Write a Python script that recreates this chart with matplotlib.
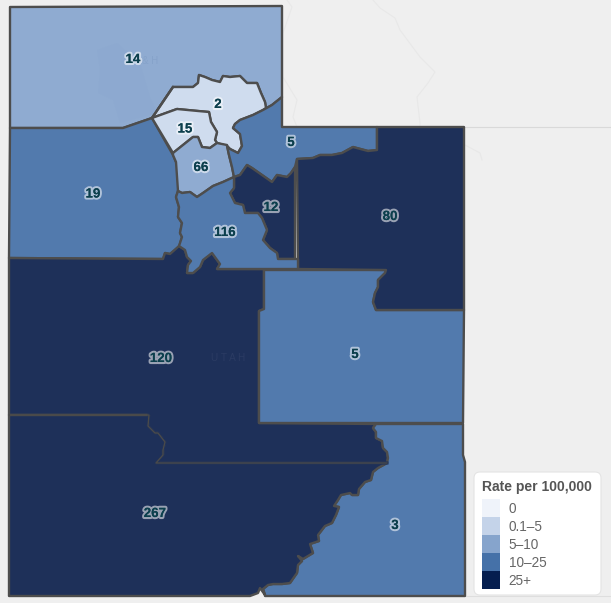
import matplotlib
matplotlib.use("Agg")
import matplotlib.pyplot as plt
import matplotlib.patheffects as pe
from matplotlib.patches import Polygon, Rectangle, FancyBboxPatch

W, H = 611, 603

# shared boundary segments (map outline points)
cache_ridge = [(263,110),(266,108),(265,102),(261,93),(257,83),(247,83),(240,76),(230,77),(223,76),(220,82),(212,80),(205,77),(199,75),(198,83),(193,87),(173,87),(152,118)]
morgan_east = [(263,110),(253,115),(240,120),(235,124),(233,128),(240,134),(242,146),(238,153),(230,149),(227,146)]
davis_weber = [(177,109),(198,111),(209,112),(211,122),(217,132),(215,140),(217,143)]
wasatch_top = [(234,177),(240,175),(247,165),(252,168),(272,182),(277,175),(287,177),(291,173),(295,167)]
uintah_top = [(297,159),(313,158),(320,155),(332,155),(342,153),(353,147),(368,151),(377,150),(377,127)]
tooele_east = [(173,155),(176,162),(180,175),(178,191),(176,197),(179,207),(178,217),(182,223),(180,233),(182,237),(179,247)]
slc_south = [(234,177),(223,182),(213,186),(203,193),(197,197),(190,192),(182,193),(178,191)]
wasatch_sw = [(234,177),(234,188),(230,193),(235,203),(243,205),(245,213),(258,213),(262,218),(267,230),(263,240),(270,248),(277,253),(278,259)]
utah_south = [(298,259),(298,269),(217,269),(220,264),(212,253),(203,260),(200,267),(193,273),(187,273),(188,265),(191,261),(187,257),(185,250),(179,246)]
duchesne_east = [(386,270),(385,273),(378,280),(378,287),(375,293),(373,302),(376,310)]
colorado_river = [(376,424),(373,428),(376,432),(376,438),(382,441),(383,448),(387,452),(388,458),(387,463)]
san_juan_edge = [(387,463),(378,468),(373,472),(371,480),(365,482),(359,489),(358,495),(352,495),(350,493),(341,495),(338,500),(334,506),(339,507),(336,515),(332,523),(325,526),(318,535),(319,541),(313,543),(310,544),(313,553),(303,559),(298,556),(302,561),(298,565),(297,573),(290,583),(282,584),(273,584),(268,585),(263,589),(265,595),(260,588),(258,593),(250,596)]
central_south_line = [(9,415),(149,415),(148,426),(155,433),(158,433),(165,442),(163,450),(163,455),(156,463),(387,463)]

north = [(10,7),(282,6),(282,97),(272,105)] + cache_ridge + [(123,128),(10,128)]
weber = cache_ridge[::-1] + morgan_east + [(217,143)] + davis_weber[::-1]
davis = [(152,118)] + davis_weber + [(210,148),(202,147),(198,137),(193,137),(173,153)]
salt_lake = [(173,153),(193,137),(198,137),(202,147),(210,148),(217,143),(227,145),(229,155),(232,167),(234,177)] + slc_south[1:] + tooele_east[:3][::-1][1:]
summit = [(282,127),(282,97),(272,105)] + morgan_east + [(229,155),(232,167)] + wasatch_top + uintah_top + [(282,127)]
uintah = uintah_top + [(464,127),(464,310),(376,310)] + duchesne_east[::-1] + [(298,269)]
wasatch = wasatch_top + [(295,259)] + wasatch_sw[::-1]
utah = slc_south[::-1] + wasatch_sw + utah_south + tooele_east[3:][::-1][1:]
tooele = [(10,128),(123,128),(152,118)] + tooele_east + [(170,254),(165,253),(163,259),(9,258)]
central = [(9,258),(163,259),(165,253),(170,254)] + utah_south[::-1] + [(264,270),(264,309),(259,311),(259,423)] + colorado_river + central_south_line[::-1]
carbon_emery = [(264,270)] + duchesne_east + [(464,310),(463,423),(259,423),(259,311),(264,309)]
southeast = [(376,424),(463,424),(463,455),(465,462),(465,596),(265,596)] + san_juan_edge[::-1][3:] + colorado_river[::-1]
southwest = central_south_line + san_juan_edge + [(9,596)]

lake_tint = [(97,50),(117,43),(140,63),(150,97),(157,113),(120,123),(113,100),(98,93),(100,70)]

outlines = [north, tooele, central, carbon_emery, southeast, southwest, weber, davis, salt_lake, summit, uintah, wasatch, utah]
tiers = [2, 3, 4, 3, 3, 4, 1, 1, 2, 3, 4, 4, 3]
counts = ["14", "19", "120", "5", "3", "267", "2", "15", "66", "5", "80", "12", "116"]
label_pos = [(133,60),(93,194.5),(161,359),(355,355),(395,526),(155,514),(218,105),(185,129.5),(201,168),(291,143),(390,217),(271,208),(225,233)]

map_colors = ["#eef1f8", "#cfdcee", "#8fabd1", "#527aad", "#1e3059"]
legend_colors = ["#eff3fa", "#c4d3e9", "#86a4cc", "#4571a8", "#051e4f"]
legend_labels = ["0", "0.1\u20135", "5\u201310", "10\u201325", "25+"]
legend_title = "Rate per 100,000"

bg_line_a = [(373,0),(380,8),(395,18),(400,30),(420,57),(435,72),(428,83),(417,97),(420,123),(420,127)]
bg_line_b = [(287,0),(292,7),(283,33),(283,77),(297,100),(293,117),(297,127)]
bg_line_c = [(464,127),(611,127)]
bg_line_d = [(465,145),(480,153),(482,160)]
bg_line_e = [(465,596),(611,596)]

plt.rcParams["font.family"] = ["Liberation Sans", "DejaVu Sans"]
fig = plt.figure(figsize=(W/100, H/100), dpi=100, facecolor="#efefef")
ax = fig.add_axes([0, 0, 1, 1])
ax.set_xlim(0, W); ax.set_ylim(H, 0); ax.axis("off")

for line, col in [(bg_line_a,"#e8e8e8"),(bg_line_b,"#e8e8e8"),(bg_line_c,"#d9d9d9"),(bg_line_d,"#e8e8e8"),(bg_line_e,"#dedede")]:
    ax.plot(*zip(*line), color=col, lw=0.8, zorder=1)

for pts, t in zip(outlines, tiers):
    ax.add_patch(Polygon(pts, closed=True, facecolor=map_colors[t], edgecolor="#4d4d4d", lw=1.7, joinstyle="round", zorder=2))

# the central/south line is thinner than the other borders
ax.plot(*zip(*central_south_line[1:]), color=map_colors[4], lw=2.2, zorder=2.1)
ax.plot(*zip(*central_south_line), color="#4a4a4a", lw=1.0, zorder=2.2)
ax.add_patch(Polygon(lake_tint, closed=True, facecolor="#89a6ce", edgecolor="none", alpha=0.3, zorder=2.05))
ax.plot(*zip(*cache_ridge[-2:]), color="#4d4d4d", lw=1.7, zorder=2.06)

ax.text(228, 358, "U T A H", ha="center", va="center", fontsize=7.2, color="#2b3b63", zorder=2.5)
ax.text(150, 61, "& H", ha="center", va="center", fontsize=7, color="#86a3ca", zorder=2.5)

halo = [pe.withStroke(linewidth=3.0, foreground="#ffffff", alpha=0.55), pe.Normal()]
for s, (x, y) in zip(counts, label_pos):
    ax.text(x, y, s, ha="center", va="center", fontsize=9.6, fontweight="bold", color="#0c3f4d", path_effects=halo, zorder=5)

ax.add_patch(FancyBboxPatch((478,476),119,115, boxstyle="round,pad=4,rounding_size=6", facecolor="#ffffff", edgecolor="#e4e4e4", lw=0.8, zorder=6))
ax.text(482, 487, legend_title, ha="left", va="center", fontsize=10, fontweight="bold", color="#555555", zorder=7)
for i, (c, lab) in enumerate(zip(legend_colors, legend_labels)):
    y = 499 + 18*i
    ax.add_patch(Rectangle((482, y), 18, 18, facecolor=c, edgecolor="none", zorder=7))
    ax.text(508.5, y+10, lab, ha="left", va="center", fontsize=9.8, color="#666666", zorder=7)

fig.savefig("out.png", dpi=100, facecolor=fig.get_facecolor())
